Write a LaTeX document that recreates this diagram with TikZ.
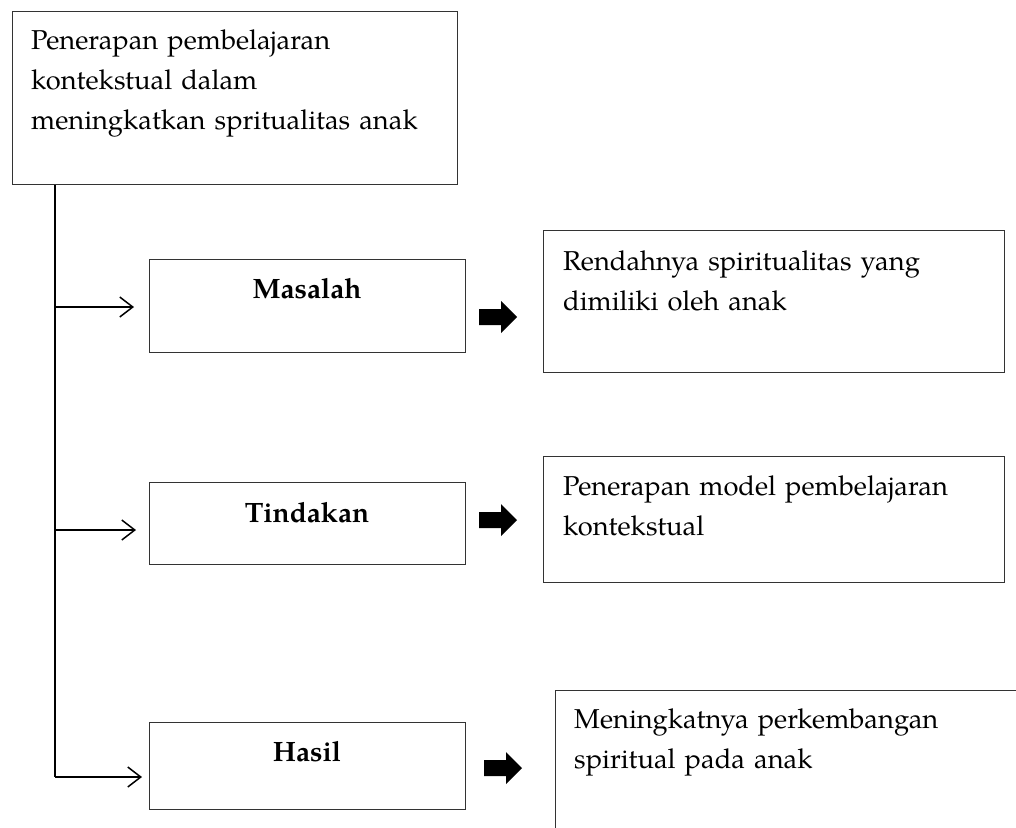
\documentclass[tikz,border=0pt]{standalone}
\usepackage{fontspec}
\setmainfont{TeX Gyre Pagella}
\usetikzlibrary{arrows.meta}
\begin{document}
\begin{tikzpicture}[x=1pt,y=-1pt,
  box/.style={draw=black!80, line width=1pt, inner sep=0pt, anchor=north west},
  txt/.style={anchor=north west, inner sep=0pt, text width=#1, align=left,
    font=\fontsize{27.3}{40}\selectfont},
  ctxt/.style={anchor=base, inner sep=0pt, font=\fontsize{28}{40}\selectfont\bfseries},
  conn/.style={draw=black, line width=1.5pt},
  openarrow/.style={conn, -{Straight Barb[length=13pt, width=20pt, line width=1.5pt]}},
  blockarrow/.pic={\fill[black] (0,-8) -- (22,-8) -- (22,-16) -- (38,0) -- (22,16) -- (22,8) -- (0,8) -- cycle;}
]
\useasboundingbox (0,0) rectangle (1016,827);
\clip (0,0) rectangle (1016,827);

% top box
\node[box, minimum width=445pt, minimum height=173pt] (top) at (12,11) {};
\node[txt=420pt] (toptext) at (31,21)
  {\strut Penerapan pembelajaran\\kontekstual dalam\\meningkatkan spritualitas anak};

% middle boxes
\node[box, minimum width=316pt, minimum height=93pt] (masalah) at (149,259) {};
\node[ctxt] (masalahtext) at (307,298) {Masalah};
\node[box, minimum width=316pt, minimum height=82pt] (tindakan) at (149,482) {};
\node[ctxt] (tindakantext) at (307,522) {Tindakan};
\node[box, minimum width=316pt, minimum height=87pt] (hasil) at (149,722) {};
\node[ctxt] (hasiltext) at (307,761) {Hasil};

% right boxes
\node[box, minimum width=461pt, minimum height=142pt] (r1) at (543,230) {};
\node[txt=430pt] (r1text) at (563,242)
  {\strut Rendahnya spiritualitas yang\\dimiliki oleh anak};
\node[box, minimum width=461pt, minimum height=126pt] (r2) at (543,456) {};
\node[txt=430pt] (r2text) at (563,467)
  {\strut Penerapan model pembelajaran\\kontekstual};
\node[box, minimum width=520pt, minimum height=200pt] (r3) at (555,690) {};
\node[txt=430pt] (r3text) at (574,700)
  {\strut Meningkatnya perkembangan\\spiritual pada anak};

% connectors
\coordinate (v1) at (55,307);
\coordinate (v2) at (55,530);
\coordinate (v3) at (55,777);
\coordinate (e1) at (134,307);
\coordinate (e2) at (136,530);
\coordinate (e3) at (142,777);
\draw[conn] (top.south -| v1) -- (v3);
\draw[openarrow] (v1) -- (e1);
\draw[openarrow] (v2) -- (e2);
\draw[openarrow] (v3) -- (e3);

% block arrows
\pic at (479,317) {blockarrow};
\pic at (479,520) {blockarrow};
\pic at (484,768) {blockarrow};
\end{tikzpicture}
\end{document}
